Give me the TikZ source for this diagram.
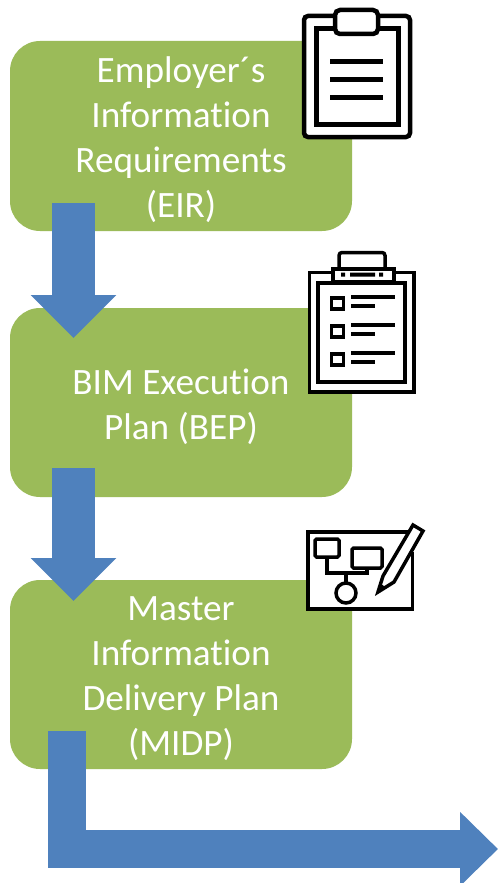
\documentclass[tikz,border=0pt]{standalone}
\usepackage{fontspec}
\setmainfont{Carlito}[Ligatures=NoCommon]
\usetikzlibrary{arrows.meta}
\definecolor{boxgreen}{HTML}{9BBB59}
\definecolor{flowblue}{HTML}{4F81BD}
\tikzset{
  stagebox/.style={fill=boxgreen,rounded corners=30pt,minimum width=342pt,inner sep=0pt,outer sep=0pt},
  stagetext/.style={text=white,align=center,inner sep=0pt,font=\fontsize{37.2}{45}\selectfont},
  flow/.style={draw=flowblue,line width=#1},
  flow/.default=43pt,
  ink/.style={draw=black,line width=#1},
  ink/.default=2.5pt,
  paper/.style={fill=white},
}
\begin{document}
\begin{tikzpicture}[x=1pt,y=-1pt,line join=miter]
\useasboundingbox (0,0) rectangle (498,883);
% stage boxes
\node[stagebox,minimum height=190pt] (eir) at (181,136) {};
\node[stagebox,minimum height=189pt] (bep) at (181,402.5) {};
\node[stagebox,minimum height=189pt] (midp) at (181,674.5) {};
% stage labels
\node[stagetext] (eirt) at (181,139.5) {Employer´s\\Information\\Requirements\\(EIR)};
\node[stagetext] (bept) at (181,406.5) {BIM Execution\\Plan (BEP)};
\node[stagetext] (midpt) at (181,678.5) {Master\\Information\\Delivery Plan\\(MIDP)};
% connector ends
\coordinate (a1) at (73.5,203);
\coordinate (a2) at (73.5,338);
\coordinate (b1) at (73.5,468);
\coordinate (b2) at (73.5,601);
\coordinate (c1) at (67,731);
\coordinate (c2) at (498,849);
% block arrows
\draw[flow=43pt,-{Triangle[width=83pt,length=43pt]}] (a1) -- (a2);
\draw[flow=43pt,-{Triangle[width=83pt,length=43pt]}] (b1) -- (b2);
\draw[flow=38pt,-{Triangle[width=72pt,length=38pt]}] (c1) |- (c2);
% icon 1: clipboard
\draw[ink=4.5pt,paper,rounded corners=4pt] (304,16) rectangle (410,137);
\draw[ink=5pt] (316,29) rectangle (398,124);
\draw[ink=4.5pt,paper,rounded corners=5pt] (335,10) rectangle (378,34);
\draw[ink=5pt] (330,62) -- (383,62) (330,79) -- (383,79) (330,97) -- (383,97);
% icon 2: checklist
\draw[ink=3.5pt,paper] (309.5,272.5) rectangle (414,392);
\draw[ink=3.5pt] (318,283) rectangle (405,382);
\draw[ink=3.5pt,paper,rounded corners=3pt] (339,268) -- (339,252.5) -- (385,252.5) -- (385,268);
\draw[ink=3.5pt,paper] (333,269) rectangle (394,282);
\fill (341,272.5) rectangle (345,276.5) (350,272.5) rectangle (375,276.5) (379,272.5) rectangle (383,276.5);
\foreach \y in {297,325,353}{
  \draw[ink=3.5pt] (331.5,\y+1) rectangle (343.5,\y+12);
  \draw[ink=3.5pt] (351,\y) -- (395,\y) (351,\y+9) -- (375,\y+9);
}
% icon 3: plan and pencil
\fill[white] (307,531) rectangle (413,610);
\draw[ink=3.5pt] (412.5,552) -- (412.5,609) -- (308,609) -- (308,532) -- (409,532);
\draw[ink=3.5pt,rounded corners=1.5pt] (315,539) rectangle (339,557);
\draw[ink=3.5pt,rounded corners=1.5pt] (352,548) rectangle (382,568);
\draw[ink=3.5pt] (327,557) -- (327,573) -- (367,573) -- (367,568);
\draw[ink=3.5pt] (346,573) -- (346,583);
\draw[ink=3.5pt] (346,593) circle[radius=10pt];
\draw[ink=3.5pt,paper] (378,592) -- (383,576) -- (413,525) -- (423,531) -- (394,582) -- cycle;
\fill (378,592) -- (380.5,584) -- (386,587) -- cycle;
\end{tikzpicture}
\end{document}
